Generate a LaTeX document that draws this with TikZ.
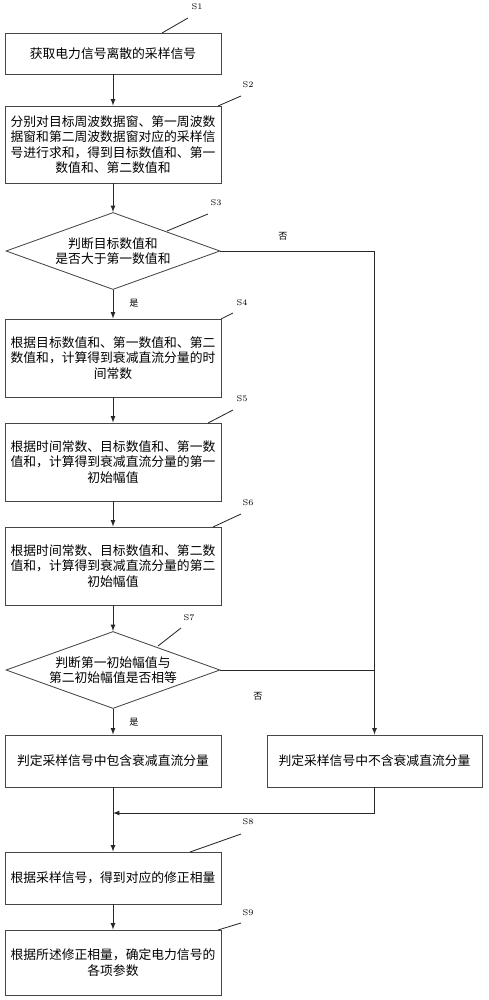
\documentclass[tikz,border=0pt]{standalone}
\usepackage{fontspec}
\usepackage{tikz}
\usetikzlibrary{arrows}
\usetikzlibrary{shapes.geometric}
\newfontfamily\cjk{Noto Sans CJK SC}
\definecolor{ink}{RGB}{70, 70, 70}
\definecolor{wire}{RGB}{40, 40, 40}

\begin{document}
\begin{tikzpicture}[x=0.025cm, y=-0.025cm, >=latex,
        stepbox/.style={draw=ink, line width=0.6pt, minimum width=5.4cm, inner sep=0pt, align=center,
                        font=\cjk\fontsize{9.1}{11}\selectfont},
        judge/.style={diamond, draw=ink, line width=0.6pt, minimum width=5.35cm, minimum height=1.925cm,
                      inner sep=0pt, aspect=2.8, align=center, font=\cjk\fontsize{9.1}{11}\selectfont},
        tag/.style={font=\fontsize{6}{7}\selectfont, inner sep=1pt},
        yn/.style={font=\cjk\fontsize{6.5}{7}\selectfont, inner sep=1pt},
        flow/.style={draw=wire, line width=0.6pt},
        lead/.style={draw=wire, line width=0.6pt}]
            \useasboundingbox (0,0) rectangle (488,1000);
            % steps
            \node[stepbox, minimum height=1.025cm] (s1) at (113, 53.5) {获取电力信号离散的采样信号};
            \node[stepbox, minimum height=1.925cm] (s2) at (113,144.5) {分别对目标周波数据窗、第一周波数\\据窗和第二周波数据窗对应的采样信\\号进行求和，得到目标数值和、第一\\数值和、第二数值和};
            \node[judge]                            (s3) at (113,251.0) {判断目标数值和\\是否大于第一数值和};
            \node[stepbox, minimum height=1.95cm]  (s4) at (113,358.0) {根据目标数值和、第一数值和、第二\\数值和，计算得到衰减直流分量的时\\间常数};
            \node[stepbox, minimum height=1.95cm]  (s5) at (113,462.0) {根据时间常数、目标数值和、第一数\\值和，计算得到衰减直流分量的第一\\初始幅值};
            \node[stepbox, minimum height=1.95cm]  (s6) at (113,566.0) {根据时间常数、目标数值和、第二数\\值和，计算得到衰减直流分量的第二\\初始幅值};
            \node[judge]                            (s7) at (113,670.0) {判断第一初始幅值与\\第二初始幅值是否相等};
            \node[stepbox, minimum height=1.3cm]   (yes) at (113,761.0) {判定采样信号中包含衰减直流分量};
            \node[stepbox, minimum height=1.3cm, minimum width=5.375cm] (no) at (374.5,761.0) {判定采样信号中不含衰减直流分量};
            \node[stepbox, minimum height=1.3cm]   (s8) at (113,878.0) {根据采样信号，得到对应的修正相量};
            \node[stepbox, minimum height=1.625cm] (s9) at (113,962.5) {根据所述修正相量，确定电力信号的\\各项参数};
            \coordinate (m) at (113,813);

            % step tags
            \node[tag] (l1) at (197,  7) {S1};  \coordinate (p1) at (162, 33);  \coordinate (q1) at (188, 18);
            \node[tag] (l2) at (248, 85) {S2};  \coordinate (p2) at (218,106);  \coordinate (q2) at (241, 96);
            \node[tag] (l3) at (216,203) {S3};  \coordinate (p3) at (167,231);  \coordinate (q3) at (208,214);
            \node[tag] (l4) at (242,303) {S4};  \coordinate (p4) at (221,319);  \coordinate (q4) at (233,313);
            \node[tag] (l5) at (242,399) {S5};  \coordinate (p5) at (208,423);  \coordinate (q5) at (233,410);
            \node[tag] (l6) at (248,503) {S6};  \coordinate (p6) at (213,527);  \coordinate (q6) at (241,514);
            \node[tag] (l7) at (189,618) {S7};  \coordinate (p7) at (158,646);  \coordinate (q7) at (181,628);
            \node[tag] (l8) at (248,822) {S8};  \coordinate (p8) at (190,852);  \coordinate (q8) at (241,834);
            \node[tag] (l9) at (248,913) {S9};  \coordinate (p9) at (218,930);  \coordinate (q9) at (241,923);
            \draw[lead] (p1) -- (q1);  \draw[lead] (p2) -- (q2);  \draw[lead] (p3) -- (q3);
            \draw[lead] (p4) -- (q4);  \draw[lead] (p5) -- (q5);  \draw[lead] (p6) -- (q6);
            \draw[lead] (p7) -- (q7);  \draw[lead] (p8) -- (q8);  \draw[lead] (p9) -- (q9);

            % flow
            \draw[flow,->] (s1) -- (s2);
            \draw[flow,->] (s2) -- (s3.north);
            \draw[flow,->] (s3.south) -- (s4);
            \draw[flow,->] (s4) -- (s5);
            \draw[flow,->] (s5) -- (s6);
            \draw[flow,->] (s6) -- (s7.north);
            \draw[flow,->] (s7.south) -- (yes);
            \draw[flow,->] (s3.east) -| (no.north);
            \draw[flow]    (s7.east) -- (s7.east -| no.north);
            \draw[flow,->] (no.south) |- (m);
            \draw[flow,->] (yes) -- (s8);
            \draw[flow,->] (s8) -- (s9);
            \node[yn] (y3) at (134,303) {是};
            \node[yn] (n3) at (283,236) {否};
            \node[yn] (y7) at (134,722) {是};
            \node[yn] (n7) at (258,696) {否};
        \end{tikzpicture}
\end{document}
